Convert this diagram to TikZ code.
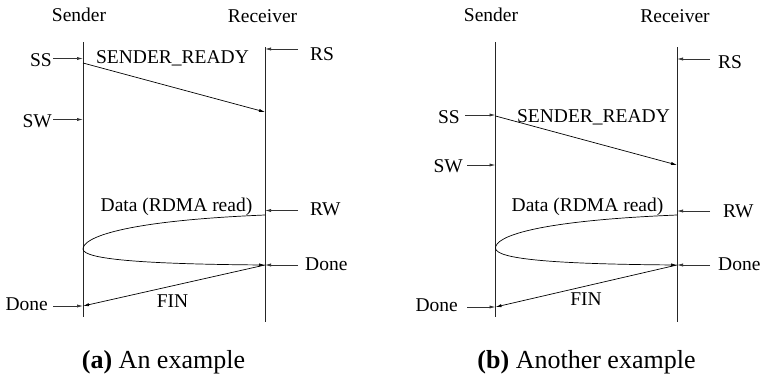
\documentclass[tikz,border=0pt]{standalone}
\usepackage{fontspec}
\setmainfont{Liberation Serif}
\usetikzlibrary{arrows.meta}
\begin{document}
\begin{tikzpicture}[x=1pt,y=-1pt,
  lbl/.style={font=\fontsize{19.5}{23}\selectfont, inner sep=0pt, anchor=base},
  captxt/.style={font=\fontsize{26}{30}\selectfont, inner sep=0pt, anchor=base},
  lifeline/.style={line width=0.8pt, black!85},
  msg/.style={line width=0.7pt, -{Latex[length=6pt,width=3.2pt]}},
  stub/.style={line width=0.7pt, black!80, -{Latex[length=6pt,width=3.2pt]}}]
\useasboundingbox (0,0) rectangle (763,375);

% ---------- (a) An example ----------
\node[lbl] (aSend) at (79,21.7) {Sender};
\node[lbl] (aRecv) at (262.5,22) {Receiver};
\coordinate (aS0) at (83,42);   \coordinate (aS1) at (83,317);
\coordinate (aR0) at (265,47);  \coordinate (aR1) at (265,322);
\draw[lifeline] (aS0) -- (aS1);
\draw[lifeline] (aR0) -- (aR1);

% sender events
\node[lbl, anchor=base east] (aSS) at (52,66) {SS};
\coordinate (aSSt) at (53,58.5);  \coordinate (aSSp) at (83,58.5);
\draw[stub] (aSSt) -- (aSSp);
\node[lbl, anchor=base east] (aSW) at (52,127) {SW};
\coordinate (aSWt) at (53,119.5); \coordinate (aSWp) at (83,119.5);
\draw[stub] (aSWt) -- (aSWp);
\node[lbl, anchor=base east] (aDoneS) at (48,310) {Done};
\coordinate (aDSt) at (53,306);   \coordinate (aDSp) at (83,306);
\draw[stub] (aDSt) -- (aDSp);

% receiver events
\node[lbl, anchor=base west] (aRS) at (310,60) {RS};
\coordinate (aRSt) at (298,49);   \coordinate (aRSp) at (265,49);
\draw[stub] (aRSt) -- (aRSp);
\node[lbl, anchor=base west] (aRW) at (310,215) {RW};
\coordinate (aRWt) at (298,210.5); \coordinate (aRWp) at (265,210.5);
\draw[stub] (aRWt) -- (aRWp);
\node[lbl, anchor=base west] (aDoneR) at (305,270) {Done};
\coordinate (aDRt) at (298,265);  \coordinate (aDRp) at (265,265);
\draw[stub] (aDRt) -- (aDRp);

% messages
\node[lbl] (aSRlbl) at (172.5,63) {SENDER\_READY};
\coordinate (aSRa) at (83,63);    \coordinate (aSRb) at (265,112);
\draw[msg] (aSRa) -- (aSRb);
\node[lbl] (aDlbl) at (176.5,211) {Data (RDMA read)};
\coordinate (aDa) at (265,215);   \coordinate (aDm) at (83,249);
\draw[msg] (aDa) .. controls (120,221) and (83,238) .. (aDm)
                 .. controls (83,259) and (140,264) .. (aDRp);
\node[lbl] (aFlbl) at (172.5,307) {FIN};
\draw[msg] (aDRp) -- (aDSp);

\node[captxt] (capA) at (163.5,368) {\textbf{(a)} An example};

% ---------- (b) Another example ----------
\node[lbl] (bSend) at (491,21.7) {Sender};
\node[lbl] (bRecv) at (675,22) {Receiver};
\coordinate (bS0) at (495.5,42);  \coordinate (bS1) at (495.5,317);
\coordinate (bR0) at (677,47);    \coordinate (bR1) at (677,322);
\draw[lifeline] (bS0) -- (bS1);
\draw[lifeline] (bR0) -- (bR1);

% sender events
\node[lbl, anchor=base east] (bSS) at (460,123) {SS};
\coordinate (bSSt) at (465,115);  \coordinate (bSSp) at (495.5,115);
\draw[stub] (bSSt) -- (bSSp);
\node[lbl, anchor=base east] (bSW) at (463,172) {SW};
\coordinate (bSWt) at (467,165);  \coordinate (bSWp) at (495.5,165);
\draw[stub] (bSWt) -- (bSWp);
\node[lbl, anchor=base east] (bDoneS) at (458,311) {Done};
\coordinate (bDSt) at (467,307);  \coordinate (bDSp) at (495.5,307);
\draw[stub] (bDSt) -- (bDSp);

% receiver events
\node[lbl, anchor=base west] (bRS) at (718,68) {RS};
\coordinate (bRSt) at (710,59);   \coordinate (bRSp) at (677,59);
\draw[stub] (bRSt) -- (bRSp);
\node[lbl, anchor=base west] (bRW) at (723,217) {RW};
\coordinate (bRWt) at (710,211);  \coordinate (bRWp) at (677,211);
\draw[stub] (bRWt) -- (bRWp);
\node[lbl, anchor=base west] (bDoneR) at (718,270) {Done};
\coordinate (bDRt) at (710,265);  \coordinate (bDRp) at (677,265);
\draw[stub] (bDRt) -- (bDRp);

% messages
\node[lbl] (bSRlbl) at (593.5,122) {SENDER\_READY};
\coordinate (bSRa) at (495.5,116); \coordinate (bSRb) at (677,165);
\draw[msg] (bSRa) -- (bSRb);
\node[lbl] (bDlbl) at (587.5,211) {Data (RDMA read)};
\coordinate (bDa) at (677,215);   \coordinate (bDm) at (495.5,248);
\draw[msg] (bDa) .. controls (532,221) and (495.5,237) .. (bDm)
                 .. controls (495.5,259) and (552,264) .. (bDRp);
\node[lbl] (bFlbl) at (586,305) {FIN};
\draw[msg] (bDRp) -- (bDSp);

\node[captxt] (capB) at (586.5,368) {\textbf{(b)} Another example};
\end{tikzpicture}
\end{document}
